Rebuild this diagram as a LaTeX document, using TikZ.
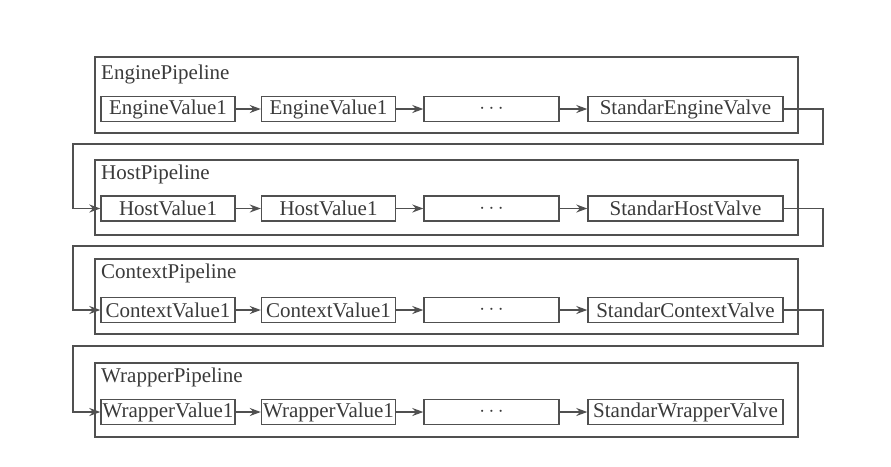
\documentclass[tikz,border=0pt]{standalone}
\usepackage{fontspec}
\setmainfont{Liberation Serif}
\usetikzlibrary{arrows.meta}
\definecolor{ln}{HTML}{505050}
\definecolor{tx}{HTML}{3A3A3A}
\tikzset{
  valbox/.style={draw=ln, line width=1.4pt, minimum height=25pt, inner sep=0pt, text=tx, font=\fontsize{21}{21}\selectfont},
  pipebox/.style={draw=ln, line width=1.4pt},
  pipelabel/.style={anchor=west, inner sep=0pt, text=tx, font=\fontsize{21}{21}\selectfont},
  arr/.style={draw=ln, line width=1.4pt, -{Stealth[length=11pt,width=8pt]}},
}
\begin{document}
\begin{tikzpicture}[x=1pt,y=-1pt]
\useasboundingbox (0,0) rectangle (891,466);
% pipelines
\foreach \t/\b in {57/133, 160/235, 259/334, 363/437}{
  \draw[pipebox] (95,\t) rectangle (798,\b);
}
\node[pipelabel] (epl) at (101,74) {EnginePipeline};
\node[pipelabel] (hpl) at (101,174) {HostPipeline};
\node[pipelabel] (cpl) at (101,273) {ContextPipeline};
\node[pipelabel] (wpl) at (101,377) {WrapperPipeline};
% rows
\newcommand{\valrow}[5]{%
  \node[valbox, minimum width=134pt] (#1a) at (168,#2) {#3};
  \node[valbox, minimum width=134pt] (#1b) at (328.5,#2) {#4};
  \node[valbox, minimum width=135pt] (#1c) at (491.5,#2) {\raisebox{-1pt}{$\cdots$}};
  \node[valbox, minimum width=195pt] (#1d) at (685.5,#2) {#5};
  \draw[arr] (#1a) -- (#1b);
  \draw[arr] (#1b) -- (#1c);
  \draw[arr] (#1c) -- (#1d);
}
\valrow{e}{109}{EngineValue1}{EngineValue1}{StandarEngineValve}
\valrow{h}{208.5}{HostValue1}{HostValue1}{StandarHostValve}
\valrow{c}{310}{ContextValue1}{ContextValue1}{StandarContextValve}
\valrow{w}{412}{WrapperValue1}{WrapperValue1}{StandarWrapperValve}
% connectors between pipelines
\coordinate (r1) at (823,144); \coordinate (l1) at (73,144);
\coordinate (r2) at (823,246); \coordinate (l2) at (73,246);
\coordinate (r3) at (823,346); \coordinate (l3) at (73,346);
\draw[arr] (ed.east) -| (r1) -- (l1) |- (ha.west);
\draw[arr] (hd.east) -| (r2) -- (l2) |- (ca.west);
\draw[arr] (cd.east) -| (r3) -- (l3) |- (wa.west);
\end{tikzpicture}
\end{document}
